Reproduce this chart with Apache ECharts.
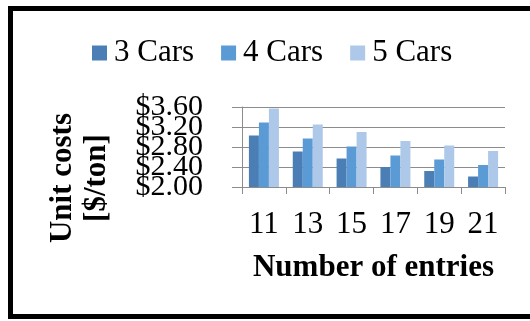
<!DOCTYPE html>
<html>
<head>
<meta charset="utf-8">
<script src="https://cdn.jsdelivr.net/npm/echarts@6/dist/echarts.min.js"></script>
<style>
  html, body { margin: 0; padding: 0; background: #fff; overflow: hidden; }
  #chart { width: 530px; height: 321px; }
</style>
</head>
<body>
<div id="chart"></div>
<script>
// Number of entries per run (category axis)
const entries = ['11', '13', '15', '17', '19', '21'];
// Unit costs in $/ton for each fleet size
const cars3 = [3.03, 2.71, 2.57, 2.40, 2.32, 2.21];
const cars4 = [3.29, 2.97, 2.81, 2.63, 2.55, 2.44];
const cars5 = [3.57, 3.25, 3.10, 2.92, 2.83, 2.72];
// Value-axis tick values ($/ton)
const costTicks = [2.00, 2.40, 2.80, 3.20, 3.60];
const seriesNames = ['3 Cars', '4 Cars', '5 Cars'];
const seriesColors = ['#4A7EB4', '#5B9BD5', '#ADC8E8'];

const serif = '"Liberation Serif", "Times New Roman", serif';
const fmtCost = v => '$' + v.toFixed(2);
const chart = echarts.init(document.getElementById('chart'), null, { renderer: 'canvas' });

const makeBar = (name, data, color) => ({
  name: name,
  type: 'bar',
  data: data,
  barWidth: 10,
  barGap: '0%',
  yAxisIndex: 0,
  itemStyle: { color: color },
  emphasis: { disabled: true }
});

const gridLine = { color: '#8c8c8c', width: 1 };

chart.setOption({
  animation: false,
  backgroundColor: '#ffffff',
  textStyle: { fontFamily: serif },
  legend: {
    data: seriesNames,
    left: 92,
    top: 36,
    padding: 0,
    itemWidth: 15,
    itemHeight: 15,
    itemGap: 27,
    icon: 'rect',
    textStyle: { fontFamily: serif, fontSize: 31, color: '#000', lineHeight: 34, padding: [0, 0, 0, 2] }
  },
  grid: { left: 242, right: 25, top: 107, bottom: 134, containLabel: false },
  xAxis: {
    type: 'category',
    data: entries,
    name: 'Number of entries',
    nameLocation: 'middle',
    nameGap: 65,
    nameTextStyle: { fontFamily: serif, fontSize: 31, fontWeight: 'bold', color: '#000' },
    axisLine: { lineStyle: gridLine },
    axisTick: { show: true, length: 7, lineStyle: { color: gridLine.color } },
    axisLabel: { fontFamily: serif, fontSize: 31, color: '#000', margin: 22 }
  },
  yAxis: [
    {
      // value scale for the bars, gridlines and ticks
      type: 'value',
      min: costTicks[0],
      max: costTicks[costTicks.length - 1],
      interval: 0.4,
      axisLine: { show: true, lineStyle: gridLine },
      axisTick: { show: true, length: 10, lineStyle: { color: gridLine.color } },
      splitLine: { show: true, lineStyle: gridLine },
      axisLabel: { show: false }
    },
    {
      // label track: every tick value printed, even where the labels crowd
      type: 'category',
      position: 'left',
      data: costTicks.map(fmtCost),
      boundaryGap: false,
      axisLine: { show: false },
      axisTick: { show: false },
      splitLine: { show: false },
      axisLabel: {
        interval: 0,
        fontFamily: serif,
        fontSize: 30,
        color: '#000',
        margin: 39,
        hideOverlap: false
      }
    }
  ],
  series: [
    makeBar(seriesNames[0], cars3, seriesColors[0]),
    makeBar(seriesNames[1], cars4, seriesColors[1]),
    makeBar(seriesNames[2], cars5, seriesColors[2])
  ],
  graphic: [
    // open frame: top, left and bottom edges, running off the right side
    { type: 'rect', shape: { x: 8, y: 6, width: 522, height: 5 }, style: { fill: '#000' }, silent: true },
    { type: 'rect', shape: { x: 8, y: 6, width: 5, height: 313 }, style: { fill: '#000' }, silent: true },
    { type: 'rect', shape: { x: 8, y: 314, width: 522, height: 5 }, style: { fill: '#000' }, silent: true },
    {
      type: 'text',
      x: 80,
      y: 178,
      rotation: Math.PI / 2,
      style: {
        text: 'Unit costs\n[$/ton]',
        fontFamily: serif,
        fontSize: 31,
        fontWeight: 'bold',
        lineHeight: 34,
        fill: '#000',
        align: 'center',
        verticalAlign: 'middle'
      },
      silent: true
    }
  ]
});
</script>
</body>
</html>
